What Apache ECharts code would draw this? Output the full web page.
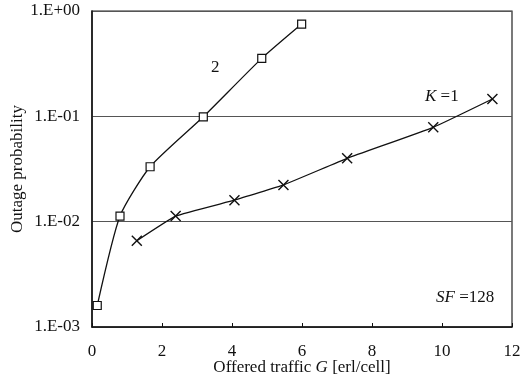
<!DOCTYPE html>
<html>
<head>
<meta charset="utf-8">
<script src="https://cdn.jsdelivr.net/npm/echarts@6/dist/echarts.min.js"></script>
<style>
  html, body { margin: 0; padding: 0; background: #fff; }
  #chart { width: 521px; height: 380px; }
</style>
</head>
<body>
<div id="chart"></div>
<script>
    // K=2 curve (squares)
    var k2X = [0.15, 0.8, 1.66, 3.18, 4.85, 5.99];
    var k2Y = [0.0016, 0.0113, 0.0332, 0.099, 0.355, 0.752];
    // K=1 curve (crosses)
    var k1X = [1.28, 2.39, 4.07, 5.47, 7.29, 9.75, 11.44];
    var k1Y = [0.0066, 0.0113, 0.016, 0.0223, 0.0399, 0.0786, 0.146];

    var font = 'Liberation Serif';

    function pairs(xs, ys) {
        var out = [];
        for (var i = 0; i < xs.length; i++) out.push([xs[i], ys[i]]);
        return out;
    }

    var chart = echarts.init(document.getElementById('chart'));
    var crossPath = 'path://M0,0L10,10M10,0L0,10';

    var option = {
        animation: false,
        grid: {
            left: 92, right: 9, top: 11, bottom: 53,
            outerBoundsMode: 'none',
            containLabel: false,
            show: true, borderColor: '#222', borderWidth: 1.2
        },
        xAxis: {
            type: 'value',
            min: 0, max: 12, interval: 2,
            name: 'Offered traffic {i|G} [erl/cell]',
            nameLocation: 'middle',
            nameGap: 32,
            nameMoveOverlap: false,
            nameTextStyle: {
                fontFamily: font, fontSize: 17, color: '#111',
                rich: { i: { fontFamily: font, fontSize: 17, fontStyle: 'italic', color: '#111' } }
            },
            axisLine: { show: true, lineStyle: { color: '#111', width: 1.5 } },
            axisTick: { show: true, inside: true, length: 4, lineStyle: { color: '#111' } },
            axisLabel: { fontFamily: font, fontSize: 17, color: '#111', margin: 16 },
            splitLine: { show: false }
        },
        yAxis: {
            type: 'log',
            logBase: 10,
            min: 0.001, max: 1,
            name: 'Outage probability',
            nameLocation: 'middle',
            nameGap: 66,
            nameMoveOverlap: false,
            nameTextStyle: { fontFamily: font, fontSize: 17, color: '#111' },
            axisLine: { show: true, lineStyle: { color: '#111', width: 1.5 } },
            axisTick: { show: false },
            minorTick: { show: false },
            axisLabel: {
                fontFamily: font, fontSize: 17, color: '#111', margin: 12,
                formatter: function (v) {
                    var e = Math.round(Math.log10(v));
                    var s = Math.abs(e) < 10 ? '0' + Math.abs(e) : '' + Math.abs(e);
                    return '1.E' + (e < 0 ? '-' : '+') + s;
                }
            },
            splitLine: { show: true, lineStyle: { color: '#555', width: 1 } }
        },
        series: [
            {
                name: 'K=2',
                type: 'line',
                smooth: 0.2,
                data: pairs(k2X, k2Y),
                symbol: 'rect',
                symbolSize: 8,
                lineStyle: { color: '#111', width: 1.3 },
                itemStyle: { color: '#fff', borderColor: '#111', borderWidth: 1.2 }
            },
            {
                name: 'K=1',
                type: 'line',
                smooth: 0.1,
                data: pairs(k1X, k1Y),
                symbol: crossPath,
                symbolSize: 10,
                lineStyle: { color: '#111', width: 1.3 },
                itemStyle: { color: 'none', borderColor: '#111', borderWidth: 1.4 }
            }
        ],
        graphic: [
            {
                type: 'text', left: 211, top: 59,
                style: { text: '2', fontFamily: font, fontSize: 17, fill: '#111' }
            },
            {
                type: 'text', left: 425, top: 88,
                style: {
                    text: '{i|K} =1', fontFamily: font, fontSize: 17, fill: '#111',
                    rich: { i: { fontFamily: font, fontSize: 17, fontStyle: 'italic', fill: '#111' } }
                }
            },
            {
                type: 'text', left: 436, top: 289,
                style: {
                    text: '{i|SF} =128', fontFamily: font, fontSize: 17, fill: '#111',
                    rich: { i: { fontFamily: font, fontSize: 17, fontStyle: 'italic', fill: '#111' } }
                }
            }
        ]
    };

    chart.setOption(option);
</script>
</body>
</html>
